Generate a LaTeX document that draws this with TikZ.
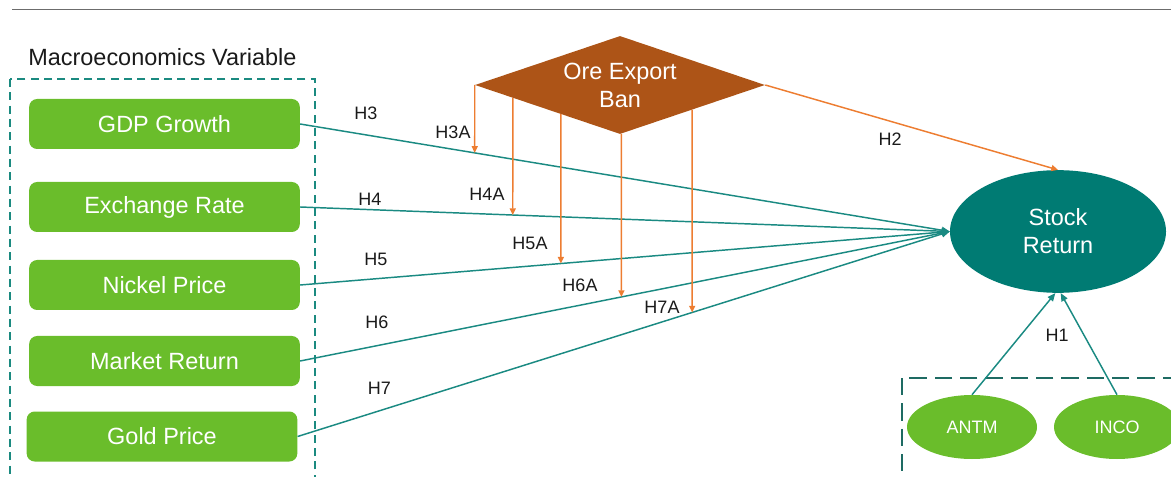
\documentclass[tikz,border=0pt]{standalone}
\usepackage{fontspec}
\setmainfont{Liberation Sans}
\usetikzlibrary{arrows.meta,shapes.geometric,calc}
\definecolor{vgreen}{HTML}{6ABD2B}
\definecolor{srteal}{HTML}{007B73}
\definecolor{lteal}{HTML}{1A8A82}
\definecolor{boxteal}{HTML}{1B8A80}
\definecolor{darkteal}{HTML}{1E6B63}
\definecolor{banfill}{HTML}{AD5417}
\definecolor{oline}{HTML}{ED7D31}
\definecolor{txt}{HTML}{1A1A1A}
\tikzset{
  bigfont/.style={font=\fontsize{17.6}{21}\selectfont},
  smallfont/.style={font=\fontsize{13.5}{16}\selectfont},
  varbox/.style={fill=vgreen, rounded corners=6pt, text=white, bigfont,
    minimum width=203pt, minimum height=37.5pt, inner sep=0pt},
  hlabel/.style={text=txt, smallfont, inner sep=0pt},
  tarr/.style={draw=lteal, line width=1.1pt, -{Triangle[length=6pt,width=5pt]}},
  oarr/.style={draw=oline, line width=1.1pt, -{Triangle[length=5pt,width=4.5pt]}},
  firmell/.style={ellipse, fill=vgreen, text=white, smallfont, inner sep=0pt,
    minimum height=48pt},
}
\begin{document}
\begin{tikzpicture}[x=0.75pt,y=-0.75pt]
\useasboundingbox (0,0) rectangle (1171,477);
\clip (0,0) rectangle (1171,477);

% top rule
\coordinate (tl) at (12,9.5);
\coordinate (tr) at (1171,9.5);
\draw[gray!85!black, line width=1.2pt] (tl) -- (tr);

% title
\node[anchor=west, text=txt, bigfont, inner sep=0pt] (title) at (28,57) {Macroeconomics Variable};

% dashed boxes
\draw[boxteal, line width=2pt, dash pattern=on 6pt off 4pt] (10,79) rectangle (315,495);
\draw[darkteal, line width=2pt, dash pattern=on 13pt off 6pt] (902,378) rectangle (1190,495);

% variable boxes
\node[varbox] (gdp) at (164.5,124) {GDP Growth};
\node[varbox] (exr) at (164.5,207) {Exchange Rate};
\node[varbox] (nik) at (164.5,285) {Nickel Price};
\node[varbox] (mkt) at (164.5,361) {Market Return};
\node[varbox] (gold) at (162,436.5) {Gold Price};

% stock return
\node[ellipse, fill=srteal, text=white, bigfont, align=center, inner sep=0pt,
  minimum width=162pt, minimum height=92pt] (sr) at (1058,231.5) {Stock\\Return};

% ore export ban
\node[diamond, aspect=2.96, fill=banfill, text=white, bigfont, align=center, inner sep=0pt,
  minimum width=217.5pt, minimum height=73.5pt] (ban) at (620,85) {Ore Export\\Ban};

% firms
\node[firmell, minimum width=97.5pt] (antm) at (972,427) {ANTM};
\node[firmell, minimum width=94.5pt] (inco) at (1117,427) {INCO};

% teal arrows
\draw[tarr] (gdp.east) -- (sr.west);
\draw[tarr] (exr.east) -- (sr.west);
\draw[tarr] (nik.east) -- (sr.west);
\draw[tarr] (mkt.east) -- (sr.west);
\draw[tarr] (gold.east) -- (sr.west);

% H1 arrows
\draw[tarr] (antm.north) -- ([xshift=-2pt]sr.south);
\draw[tarr] (inco.north) -- ([xshift=2pt]sr.south);

% H2
\draw[oarr] (ban.east) -- (sr.north);

% moderating arrows
\coordinate (s3) at (ban.west);
\coordinate (s4) at ($(ban.west)!0.262!(ban.south)$);
\coordinate (s5) at ($(ban.west)!0.593!(ban.south)$);
\coordinate (s6) at ($(ban.south)!0.01!(ban.east)$);
\coordinate (s7) at ($(ban.south)!0.497!(ban.east)$);
\coordinate (b3) at ([yshift=-300pt]s3);
\coordinate (b4) at ([yshift=-300pt]s4);
\coordinate (b5) at ([yshift=-300pt]s5);
\coordinate (b6) at ([yshift=-300pt]s6);
\coordinate (b7) at ([yshift=-300pt]s7);
\draw[oarr] (s3) -- (intersection of s3--b3 and gdp.east--sr.west);
\draw[oarr] (s4) -- (intersection of s4--b4 and exr.east--sr.west);
\draw[oarr] (s5) -- (intersection of s5--b5 and nik.east--sr.west);
\draw[oarr] (s6) -- (intersection of s6--b6 and mkt.east--sr.west);
\draw[oarr] (s7) -- (intersection of s7--b7 and gold.east--sr.west);

% labels
\node[hlabel] (h3) at (366,113) {H3};
\node[hlabel] (h4) at (370,199) {H4};
\node[hlabel] (h5) at (376,259) {H5};
\node[hlabel] (h6) at (377,322.5) {H6};
\node[hlabel] (h7) at (379.5,388) {H7};
\node[hlabel] (h3a) at (453,132) {H3A};
\node[hlabel] (h4a) at (487,194) {H4A};
\node[hlabel] (h5a) at (530,243) {H5A};
\node[hlabel] (h6a) at (580,285) {H6A};
\node[hlabel] (h7a) at (662,307) {H7A};
\node[hlabel] (h2) at (890,139) {H2};
\node[hlabel] (h1) at (1057,335) {H1};
\end{tikzpicture}
\end{document}
